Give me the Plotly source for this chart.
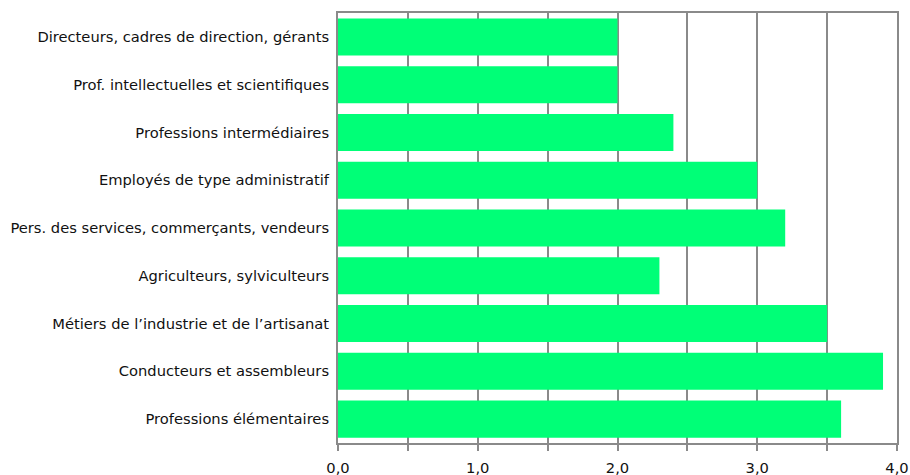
import plotly.graph_objects as go

categories = [
    "Directeurs, cadres de direction, gérants",
    "Prof. intellectuelles et scientifiques",
    "Professions intermédiaires",
    "Employés de type administratif",
    "Pers. des services, commerçants, vendeurs",
    "Agriculteurs, sylviculteurs",
    "Métiers de l\u2019industrie et de l\u2019artisanat",
    "Conducteurs et assembleurs",
    "Professions élémentaires",
]
values = [2.0, 2.0, 2.4, 3.0, 3.2, 2.3, 3.5, 3.9, 3.6]
tick_vals = [0, 0.5, 1, 1.5, 2, 2.5, 3, 3.5, 4]
tick_text = ["0,0", "", "1,0", "", "2,0", "", "3,0", "", "4,0"]

fig = go.Figure(go.Bar(
    y=categories, x=values, orientation="h",
    marker=dict(color="#00ff77", line=dict(width=0)),
))

fig.update_layout(
    width=910, height=475,
    margin=dict(l=338, r=13, t=13, b=32),
    paper_bgcolor="white", plot_bgcolor="white",
    bargap=0.225,
    font=dict(family="DejaVu Sans", size=14.7, color="#111111"),
    showlegend=False,
)
fig.update_xaxes(
    range=[0, 4], tickvals=tick_vals, ticktext=tick_text,
    showgrid=True, gridcolor="#8a8a8a", gridwidth=1.5,
    showline=True, linecolor="#8a8a8a", linewidth=2, mirror=True,
    ticks="outside", ticklen=6, tickcolor="#8a8a8a", tickwidth=1.5,
    zeroline=False, automargin=False, ticklabelstandoff=4,
)
fig.update_yaxes(
    autorange="reversed",
    showline=True, linecolor="#8a8a8a", linewidth=2, mirror=True,
    showgrid=False, ticks="", ticklabelstandoff=4, automargin=False,
)

fig.write_html("out.html", config={"displayModeBar": False},
               post_script="document.body.style.margin='0';")
